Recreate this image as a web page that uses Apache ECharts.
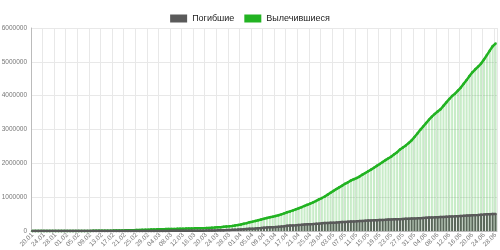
<!DOCTYPE html>
<html>
<head>
<meta charset="utf-8">
<script src="https://cdn.jsdelivr.net/npm/echarts@6/dist/echarts.min.js"></script>
<style>html,body{margin:0;padding:0;background:#fff}#c{width:500px;height:250px}</style>
</head>
<body>
<div id="c"></div>
<script>
var categories = [
'20.01','21.01','22.01','23.01','24.01','25.01','26.01','27.01','28.01','29.01','30.01','31.01',
'01.02','02.02','03.02','04.02','05.02','06.02','07.02','08.02','09.02','10.02','11.02','12.02','13.02','14.02','15.02','16.02','17.02','18.02','19.02','20.02','21.02','22.02','23.02','24.02','25.02','26.02','27.02','28.02','29.02',
'01.03','02.03','03.03','04.03','05.03','06.03','07.03','08.03','09.03','10.03','11.03','12.03','13.03','14.03','15.03','16.03','17.03','18.03','19.03','20.03','21.03','22.03','23.03','24.03','25.03','26.03','27.03','28.03','29.03','30.03','31.03',
'01.04','02.04','03.04','04.04','05.04','06.04','07.04','08.04','09.04','10.04','11.04','12.04','13.04','14.04','15.04','16.04','17.04','18.04','19.04','20.04','21.04','22.04','23.04','24.04','25.04','26.04','27.04','28.04','29.04','30.04',
'01.05','02.05','03.05','04.05','05.05','06.05','07.05','08.05','09.05','10.05','11.05','12.05','13.05','14.05','15.05','16.05','17.05','18.05','19.05','20.05','21.05','22.05','23.05','24.05','25.05','26.05','27.05','28.05','29.05','30.05','31.05',
'01.06','02.06','03.06','04.06','05.06','06.06','07.06','08.06','09.06','10.06','11.06','12.06','13.06','14.06','15.06','16.06','17.06','18.06','19.06','20.06','21.06','22.06','23.06','24.06','25.06','26.06','27.06','28.06'
];
var deaths = [
6,9,17,18,26,42,56,82,131,133,171,213,
259,362,426,492,564,634,719,806,906,1013,1113,1118,1371,1523,1666,1770,1868,2007,2122,2247,2251,2458,2469,2629,2708,2770,2814,2872,2941,
2996,3085,3160,3254,3348,3460,3558,3803,3996,4262,4615,4720,5404,5819,6440,7126,7905,8733,9867,11299,12973,14623,16497,18615,21181,23970,27198,30652,33925,37582,42107,
46809,52983,58787,64606,69374,74565,81865,88338,95455,102525,108503,114090,119481,125983,134176,143800,153821,159509,165043,169986,176583,183066,190858,197159,202846,206544,211167,217153,227638,233388,
238619,243813,247470,251537,257239,263855,269567,274898,279311,282709,286330,291942,297197,302418,307666,311781,315185,318481,323285,328115,332924,338160,342097,345059,346232,350453,355629,360308,364867,369126,371962,
375473,380249,385947,391136,395779,399850,403128,406700,411470,416201,421458,425394,429607,432971,436899,443685,448959,454726,460973,465222,469185,473986,479816,485303,491952,496886,501393,506078
];
var recovered = [
25,27,28,30,36,39,52,61,107,126,143,222,
284,472,623,852,1124,1487,2011,2616,3244,3946,4683,5150,6295,8058,9395,10865,12583,14352,16121,18177,18890,22886,23394,25227,27905,30384,33277,36711,39782,
42716,45602,48228,51170,53796,55865,58358,60694,62494,64404,67003,68324,70251,72624,76034,78088,80840,83207,84854,87256,91499,97704,100334,108000,113770,122150,130915,139415,149082,164566,178034,
193000,212000,232000,258000,276000,298000,320000,340000,360000,382000,404000,422000,442000,465000,492000,522000,553000,580000,608000,640000,672000,705000,740000,775000,812000,848000,890000,935000,975000,1020000,
1075000,1130000,1185000,1240000,1290000,1340000,1395000,1440000,1490000,1530000,1565000,1610000,1665000,1715000,1765000,1815000,1870000,1925000,1980000,2040000,2095000,2150000,2200000,2265000,2330000,2410000,2470000,2530000,2600000,2680000,2780000,
2880000,2990000,3090000,3190000,3290000,3380000,3460000,3530000,3600000,3700000,3800000,3900000,3990000,4060000,4150000,4240000,4350000,4460000,4580000,4690000,4780000,4860000,4950000,5070000,5200000,5330000,5460000,5540000
];
var seriesNames = ['Погибшие', 'Вылечившиеся'];
var yTicks = [0, 1000000, 2000000, 3000000, 4000000, 5000000, 6000000];

var GRAY = '#5a5a5a', GREEN = '#22b322';
var chart = echarts.init(document.getElementById('c'), null, {renderer: 'canvas'});
var font = 'Liberation Sans, Arial, sans-serif';
chart.setOption({
  animation: false,
  textStyle: {fontFamily: font},
  legend: {
    top: 9, left: 'center', icon: 'rect', itemWidth: 17, itemHeight: 8, itemGap: 10,
    textStyle: {fontSize: 9, color: '#222', fontFamily: font},
    data: [
      {name: seriesNames[0], itemStyle: {color: GRAY}},
      {name: seriesNames[1], itemStyle: {color: GREEN}}
    ]
  },
  grid: {left: 31, right: 3, top: 28, bottom: 19, containLabel: false, outerBoundsMode: 'none'},
  xAxis: {
    type: 'category', data: categories, boundaryGap: true,
    axisLine: {lineStyle: {color: '#bbb'}},
    axisTick: {show: false},
    axisLabel: {interval: 3, rotate: 45, fontSize: 6.5, color: '#777', margin: 3, fontFamily: font},
    splitLine: {show: true, interval: 3, lineStyle: {color: '#e8e8e8', width: 1}}
  },
  yAxis: {
    type: 'value', min: yTicks[0], max: yTicks[yTicks.length - 1], interval: 1000000,
    axisLine: {show: true, lineStyle: {color: '#bbb'}},
    axisTick: {show: false},
    axisLabel: {fontSize: 6.5, color: '#777', margin: 4, fontFamily: font,
      formatter: function (v) { return String(v); }},
    splitLine: {lineStyle: {color: '#e8e8e8'}}
  },
  series: [
    {name: seriesNames[1], type: 'bar', data: recovered, barCategoryGap: '30%', barGap: '-100%',
     itemStyle: {color: 'rgba(34,179,34,0.25)'}, z: 1},
    {name: seriesNames[0], type: 'bar', data: deaths, barCategoryGap: '30%', barGap: '-100%',
     itemStyle: {color: 'rgba(70,80,70,0.85)'}, z: 2},
    {name: seriesNames[1], type: 'line', data: recovered, symbol: 'circle', symbolSize: 2.5, showAllSymbol: true,
     lineStyle: {color: GREEN, width: 2.5}, itemStyle: {color: GREEN}, z: 3},
    {name: seriesNames[0], type: 'line', data: deaths, symbol: 'circle', symbolSize: 2.5, showAllSymbol: true,
     lineStyle: {color: GRAY, width: 2.5}, itemStyle: {color: GRAY}, z: 4}
  ]
});
</script>
</body>
</html>
